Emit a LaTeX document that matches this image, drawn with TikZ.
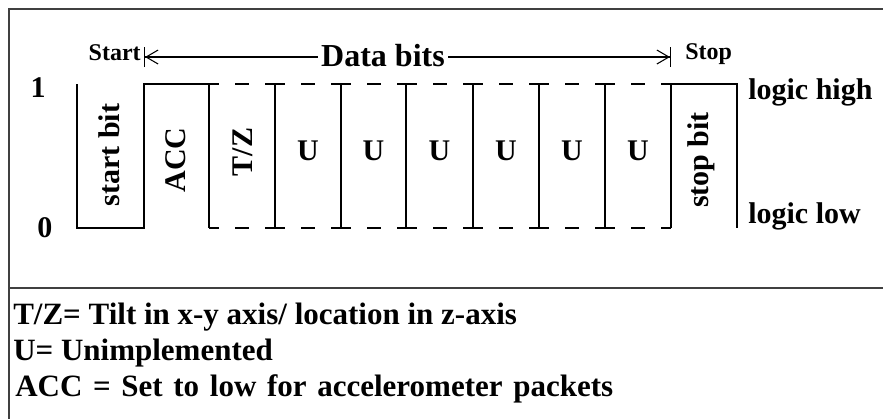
\documentclass[tikz,border=0pt]{standalone}
\usepackage{fontspec}
\setmainfont{Liberation Serif}
\usetikzlibrary{arrows.meta}

\begin{document}
\begin{tikzpicture}[x=0.75pt,y=-0.75pt,
  frame/.style={line width=1.5pt,draw=black!75},
  wave/.style={line width=1.1pt,line join=miter},
  gap/.style={wave,dash pattern=on 15pt off 12pt on 10.5pt off 12pt,dash phase=7.5pt},
  txt/.style={inner sep=0pt,font=\fontsize{22.5}{27}\selectfont\bfseries},
  bitlbl/.style={txt,rotate=90,anchor=center},
  tag/.style={inner sep=0pt,font=\fontsize{18}{22}\selectfont\bfseries},
  note/.style={inner sep=0pt,anchor=base west,font=\fontsize{23.25}{28}\selectfont\bfseries},
  span/.style={line width=0.8pt},
  barstart/.style={span,{Bar[width=15pt,line width=0.8pt]Straight Barb[length=9pt,width=10.5pt,line width=0.8pt]}-},
  barend/.style={span,-{Straight Barb[length=9pt,width=10.5pt,line width=0.8pt]Bar[width=15pt,line width=0.8pt]}}
]
\useasboundingbox (0,0) rectangle (883,419);

% frame and divider
\coordinate (tl) at (9,9);
\coordinate (tr) at (883,9);
\coordinate (bl) at (9,419);
\coordinate (dl) at (9,288);
\coordinate (dr) at (883,288);
\draw[frame] (tr) -- (tl) -- (bl);
\draw[frame] (dl) -- (dr);

% level labels
\node[txt,anchor=base] (one) at (38,97) {1};
\node[txt,anchor=base] (zero) at (45,237) {0};

% solid part of the frame: start bit and ACC
\draw[wave] (77,84) -- (77,228) -- (144,228) -- (144,84) -- (209,84) -- (209,228);
% don't-care levels across the data bits
\draw[gap] (209,84) -- (671,84);
\draw[gap] (209,228) -- (671,228);
\foreach \x in {275,341,406,473,539,605}
  \draw[wave] (\x,84) -- (\x,228);
% stop bit
\draw[wave] (671,228) -- (671,84) -- (737,84) -- (737,228);

% bit labels
\node[bitlbl] (sb) at (109,155) {start bit};
\node[bitlbl] (acc) at (176,160) {ACC};
\node[bitlbl] (tz) at (243,152) {T/Z};
\node[txt] (u1) at (308,151) {U};
\node[txt] (u2) at (373.5,151) {U};
\node[txt] (u3) at (439.5,151) {U};
\node[txt] (u4) at (506,151) {U};
\node[txt] (u5) at (572,151) {U};
\node[txt] (u6) at (638,151) {U};
\node[bitlbl] (pb) at (701,160) {stop bit};

\node[txt,anchor=base west] (hi) at (748,99) {logic high};
\node[txt,anchor=base west] (lo) at (748,223) {logic low};

% data bits span
\node[tag,anchor=base east] (st) at (141,60) {Start};
\node[tag,anchor=base west] (sp) at (685,59) {Stop};
\node[inner xsep=2.5pt,inner ysep=0pt,anchor=base,font=\fontsize{24}{29}\selectfont\bfseries] (db) at (383,66) {Data bits};
\coordinate (aL) at (144,57);
\coordinate (aR) at (671,57);
\draw[barstart] (aL) -- (aL -| db.west);
\draw[barend] (aR -| db.east) -- (aR);

% legend
\node[note] (n1) at (13,324) {T/Z= Tilt in x-y axis/ location in z-axis};
\node[note] (n2) at (13,360) {U= Unimplemented};
\node[note] (n3) at (15,396) {\spaceskip=8pt ACC = Set to low for accelerometer packets};
\end{tikzpicture}
\end{document}
